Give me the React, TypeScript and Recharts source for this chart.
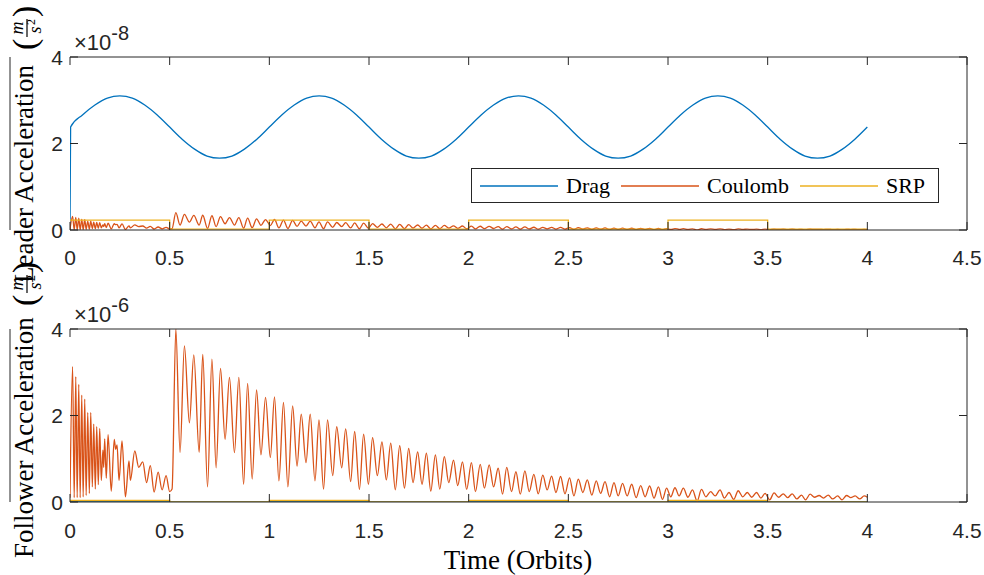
import React from 'react';
import { LineChart, Line, XAxis, YAxis, Legend } from 'recharts';

// ---------- data ----------
const xTicks = [0, 0.5, 1, 1.5, 2, 2.5, 3, 3.5, 4, 4.5];
const yTicks = [0, 2, 4];

// Leader drag (x1e-8), sampled every 1/16 orbit, plus the initial jump from 0
const dragTimes = [
  0, 0.003, 0.0625, 0.125, 0.1875, 0.25, 0.3125, 0.375, 0.4375, 0.5, 0.5625, 0.625, 0.6875, 0.75, 0.8125, 0.875, 0.9375,
  1, 1.0625, 1.125, 1.1875, 1.25, 1.3125, 1.375, 1.4375, 1.5, 1.5625, 1.625, 1.6875, 1.75, 1.8125, 1.875, 1.9375,
  2, 2.0625, 2.125, 2.1875, 2.25, 2.3125, 2.375, 2.4375, 2.5, 2.5625, 2.625, 2.6875, 2.75, 2.8125, 2.875, 2.9375,
  3, 3.0625, 3.125, 3.1875, 3.25, 3.3125, 3.375, 3.4375, 3.5, 3.5625, 3.625, 3.6875, 3.75, 3.8125, 3.875, 3.9375, 4,
];
const leaderDrag = [
  0, 2.38, 2.66, 2.89, 3.05, 3.1, 3.05, 2.89, 2.66, 2.38, 2.1, 1.87, 1.71, 1.66, 1.71, 1.87, 2.1,
  2.38, 2.66, 2.89, 3.05, 3.1, 3.05, 2.89, 2.66, 2.38, 2.1, 1.87, 1.71, 1.66, 1.71, 1.87, 2.1,
  2.38, 2.66, 2.89, 3.05, 3.1, 3.05, 2.89, 2.66, 2.38, 2.1, 1.87, 1.71, 1.66, 1.71, 1.87, 2.1,
  2.38, 2.66, 2.89, 3.05, 3.1, 3.05, 2.89, 2.66, 2.38, 2.1, 1.87, 1.71, 1.66, 1.71, 1.87, 2.1, 2.38,
];

// Leader SRP (x1e-8): on/off square wave
const srpTimes = [0, 0.5, 0.5, 1, 1, 1.5, 1.5, 2, 2, 2.5, 2.5, 3, 3, 3.5, 3.5, 4];
const leaderSrp = [0.23, 0.23, 0.02, 0.02, 0.23, 0.23, 0.02, 0.02, 0.23, 0.23, 0.02, 0.02, 0.23, 0.23, 0.02, 0.02];

// Follower drag and SRP (x1e-6): barely above zero
const followerDragTimes = [0, 4];
const followerDrag = [0.008, 0.008];
const followerSrp = [0.035, 0.035, 0.004, 0.004, 0.035, 0.035, 0.004, 0.004, 0.035, 0.035, 0.004, 0.004, 0.035, 0.035, 0.004, 0.004];

// Follower Coulomb acceleration (x1e-6): successive peaks and troughs [time, value]
const followerCoulomb: [number, number][] = [
  [0, 0.1], [0.013, 3.13], [0.021, 0.1], [0.029, 2.9], [0.036, 0.1], [0.044, 2.72], [0.051, 0.1], [0.059, 2.47],
  [0.066, 0.12], [0.074, 2.38], [0.081, 0.15], [0.089, 2.07], [0.097, 0.2], [0.104, 2.07], [0.112, 0.35], [0.119, 1.8],
  [0.127, 0.3], [0.134, 1.74], [0.142, 0.4], [0.149, 1.7], [0.157, 0.5], [0.165, 1.2], [0.169, 0.8], [0.174, 1.46],
  [0.182, 0.55], [0.191, 1.56], [0.207, 0.25], [0.222, 1.45], [0.229, 1.22], [0.236, 1.32], [0.246, 0.5], [0.261, 1.41],
  [0.278, 0.12], [0.296, 0.95], [0.303, 0.5], [0.325, 1.18], [0.345, 0.8], [0.365, 0.93], [0.384, 0.45], [0.403, 0.84],
  [0.422, 0.23], [0.442, 0.69], [0.462, 0.28], [0.482, 0.61], [0.5, 0.24], [0.512, 0.3], [0.531, 4.0], [0.552, 1.14],
  [0.574, 3.61], [0.599, 1.83], [0.621, 3.4], [0.648, 1.15], [0.666, 3.41], [0.69, 0.35], [0.712, 3.3], [0.733, 0.79],
  [0.755, 3.09], [0.778, 1.45], [0.8, 2.88], [0.825, 1.14], [0.847, 2.88], [0.871, 0.41], [0.891, 2.74], [0.914, 0.53],
  [0.936, 2.59], [0.958, 1.09], [0.981, 2.42], [1.005, 1.03], [1.026, 2.43], [1.048, 0.49], [1.071, 2.3], [1.093, 0.35],
  [1.117, 2.22], [1.139, 0.83], [1.16, 2.03], [1.184, 0.91], [1.205, 2.03], [1.229, 0.49], [1.249, 1.9], [1.272, 0.3],
  [1.292, 1.9], [1.318, 0.61], [1.338, 1.74], [1.363, 0.79], [1.383, 1.69], [1.408, 0.47], [1.428, 1.63], [1.452, 0.29],
  [1.473, 1.57], [1.497, 0.41], [1.518, 1.49], [1.542, 0.61], [1.565, 1.39], [1.587, 0.51], [1.609, 1.36], [1.632, 0.28],
  [1.654, 1.3], [1.678, 0.32], [1.699, 1.24], [1.721, 0.45], [1.744, 1.16], [1.766, 0.41], [1.788, 1.13], [1.81, 0.25],
  [1.833, 1.09], [1.855, 0.3], [1.878, 1.05], [1.9, 0.45], [1.924, 0.97], [1.945, 0.38], [1.969, 0.93], [1.99, 0.29],
  [2.014, 0.91], [2.034, 0.24], [2.058, 0.87], [2.079, 0.32], [2.103, 0.86], [2.125, 0.35], [2.148, 0.78], [2.17, 0.18],
  [2.191, 0.8], [2.215, 0.24], [2.237, 0.7], [2.259, 0.18], [2.282, 0.72], [2.304, 0.24], [2.327, 0.64], [2.349, 0.19],
  [2.372, 0.62], [2.394, 0.28], [2.416, 0.6], [2.438, 0.22], [2.461, 0.59], [2.483, 0.19], [2.506, 0.56], [2.528, 0.14],
  [2.55, 0.53], [2.573, 0.22], [2.595, 0.51], [2.618, 0.16], [2.64, 0.49], [2.662, 0.2], [2.684, 0.47], [2.707, 0.12],
  [2.729, 0.45], [2.75, 0.14], [2.772, 0.43], [2.795, 0.14], [2.818, 0.41], [2.84, 0.1], [2.863, 0.38], [2.885, 0.12],
  [2.908, 0.37], [2.93, 0.09], [2.952, 0.35], [2.972, 0.06], [2.993, 0.32], [3.014, 0.12], [3.035, 0.33], [3.056, 0.14],
  [3.077, 0.32], [3.1, 0.11], [3.123, 0.28], [3.146, 0.02], [3.168, 0.29], [3.19, 0.12], [3.214, 0.24], [3.237, 0.14],
  [3.261, 0.28], [3.283, 0.09], [3.306, 0.22], [3.33, 0.06], [3.352, 0.26], [3.375, 0.12], [3.398, 0.22], [3.42, 0.11],
  [3.444, 0.22], [3.466, 0.09], [3.487, 0.2], [3.51, 0.05], [3.532, 0.21], [3.555, 0.11], [3.578, 0.19], [3.6, 0.1],
  [3.623, 0.19], [3.646, 0.07], [3.67, 0.16], [3.69, 0.05], [3.713, 0.18], [3.735, 0.11], [3.758, 0.15], [3.78, 0.09],
  [3.804, 0.16], [3.826, 0.07], [3.851, 0.14], [3.873, 0.05], [3.896, 0.15], [3.917, 0.1], [3.939, 0.14], [3.962, 0.07],
  [3.984, 0.14], [4.0, 0.11],
];

const series = [
  { key: 'drag', name: 'Drag', color: '#0072BD' },
  { key: 'coulomb', name: 'Coulomb', color: '#D95319' },
  { key: 'srp', name: 'SRP', color: '#EDB120' },
];

const leaderDragData = dragTimes.map((t, i) => ({ t, v: leaderDrag[i] }));
const leaderSrpData = srpTimes.map((t, i) => ({ t, v: leaderSrp[i] }));
const followerDragData = followerDragTimes.map((t, i) => ({ t, v: followerDrag[i] }));
const followerSrpData = srpTimes.map((t, i) => ({ t, v: followerSrp[i] }));
const coulombData = followerCoulomb.map(([t, v]) => ({ t, v }));

// ---------- styles ----------
const AX = '#262626';
const SANS = '"Liberation Sans", Arial, sans-serif';
const SERIF = '"Liberation Serif", "Times New Roman", serif';
const tickFont = { fontFamily: SANS, fontSize: 21, fill: AX };
const LW = 1.3;
const noTick = () => <g />;

// left axis tick: inward tick mark + label left of the axis
const LeftTick = (props: any) => {
  const { y, payload } = props;
  return (
    <g>
      <line x1={70} x2={78} y1={y} y2={y} stroke={AX} strokeWidth={1} />
      <text x={63} y={y} dy="0.36em" textAnchor="end" fontFamily={SANS} fontSize={21} fill={AX}>
        {payload.value}
      </text>
    </g>
  );
};

const LegendBox = () => (
  <div
    style={{
      border: `1px solid ${AX}`,
      background: '#fff',
      width: 466,
      height: 33,
      display: 'flex',
      alignItems: 'center',
      fontFamily: SERIF,
      fontSize: 22,
      color: '#000',
      lineHeight: 1,
    }}
  >
    {series.map((s, i) => (
      <div key={s.key} style={{ display: 'flex', alignItems: 'center', marginLeft: i === 0 ? 8 : 11 }}>
        <svg width={78} height={4} style={{ display: 'block' }}>
          <line x1={0} y1={2} x2={78} y2={2} stroke={s.color} strokeWidth={LW} />
        </svg>
        <span style={{ marginLeft: 8 }}>{s.name}</span>
      </div>
    ))}
  </div>
);

// main y-label text, vertical writing mode turned to read bottom-to-top
const YText = ({ text, top, len }: { text: string; top: number; len: number }) => (
  <div
    style={{
      position: 'absolute',
      left: 11,
      top,
      height: len,
      width: 27,
      writingMode: 'vertical-rl',
      transform: 'rotate(180deg)',
      fontFamily: SERIF,
      fontSize: 27,
      lineHeight: '27px',
      whiteSpace: 'nowrap',
      textAlign: 'center',
      color: '#000',
    }}
  >
    {text}
  </div>
);

// "(m/s^2)" drawn in SVG; topY = screen y of the top of the block
const Units = ({ topY }: { topY: number }) => (
  <g transform="rotate(-90)" fill="#000" fontFamily={SERIF}>
    <text x={-(topY + 44)} y={36} fontSize={34}>(</text>
    <text x={-(topY + 22)} y={23} textAnchor="middle" fontSize={18} fontStyle="italic">m</text>
    <line x1={-(topY + 31)} x2={-(topY + 13)} y1={27} y2={27} stroke="#000" strokeWidth={1.2} />
    <text x={-(topY + 24)} y={41} textAnchor="middle" fontSize={18} fontStyle="italic">s</text>
    <text x={-(topY + 19)} y={35} fontSize={12}>2</text>
    <text x={-(topY + 11)} y={36} fontSize={34}>)</text>
  </g>
);

const Exponent = ({ exp, baseY }: { exp: string; baseY: number }) => (
  <text x={74} y={baseY} fontFamily={SANS} fontSize={22} fill={AX}>
    ×10
    <tspan dy={-10} fontSize={20}>{exp}</tspan>
  </text>
);

function Panel({
  height,
  top,
  plotTop,
  plotBottom,
  tickMargin,
  follower,
}: {
  height: number;
  top: number;
  plotTop: number;
  plotBottom: number;
  tickMargin: number;
  follower: boolean;
}) {
  const dragData = follower ? followerDragData : leaderDragData;
  const srpData = follower ? followerSrpData : leaderSrpData;
  return (
    <div style={{ position: 'absolute', left: 0, top }}>
      <LineChart width={984} height={height} margin={{ top: plotTop - 1, right: 16, bottom: 0, left: 0 }}>
        <XAxis
          dataKey="t"
          type="number"
          domain={[0, 4.5]}
          ticks={xTicks}
          interval={0}
          allowDataOverflow
          height={height - plotBottom}
          tickSize={-8}
          tickMargin={tickMargin}
          tick={tickFont}
          axisLine={{ stroke: AX }}
          tickLine={{ stroke: AX }}
        />
        <XAxis
          xAxisId="top"
          orientation="top"
          dataKey="t"
          type="number"
          domain={[0, 4.5]}
          ticks={xTicks}
          interval={0}
          allowDataOverflow
          height={1}
          tickSize={-8}
          tick={noTick}
          axisLine={{ stroke: AX }}
          tickLine={{ stroke: AX }}
        />
        <YAxis
          yAxisId="main"
          type="number"
          domain={[0, 4]}
          ticks={yTicks}
          interval={0}
          allowDataOverflow
          width={70}
          tickLine={false}
          tick={LeftTick}
          axisLine={{ stroke: AX }}
        />
        <YAxis
          yAxisId="right"
          orientation="right"
          type="number"
          domain={[0, 4]}
          ticks={yTicks}
          interval={0}
          allowDataOverflow
          width={1}
          tickSize={-8}
          tick={noTick}
          axisLine={{ stroke: AX }}
          tickLine={{ stroke: AX }}
        />
        {/* leader panel in 1e-8, follower panel in 1e-6 */}
        <YAxis yAxisId="small" hide type="number" domain={[0, 4]} allowDataOverflow />
        {/* Coulomb values stored in 1e-6; the leader sees 1e-3 of the follower's value */}
        <YAxis yAxisId="coul" hide type="number" domain={follower ? [0, 4] : [0, 40]} allowDataOverflow />
        <Line
          data={dragData}
          dataKey="v"
          yAxisId="small"
          type="monotone"
          stroke={series[0].color}
          strokeWidth={LW}
          dot={false}
          isAnimationActive={false}
          name="Drag"
        />
        <Line
          data={coulombData}
          dataKey="v"
          yAxisId="coul"
          type="monotone"
          stroke={series[1].color}
          strokeWidth={LW}
          dot={false}
          isAnimationActive={false}
          name="Coulomb"
        />
        <Line
          data={srpData}
          dataKey="v"
          yAxisId="small"
          type="linear"
          stroke={series[2].color}
          strokeWidth={LW}
          dot={false}
          isAnimationActive={false}
          name="SRP"
        />
        {!follower && (
          <Legend
            layout="horizontal"
            verticalAlign="middle"
            align="center"
            content={() => <LegendBox />}
            wrapperStyle={{ left: 471, top: 168, width: 468, height: 35, margin: 0 }}
          />
        )}
      </LineChart>
    </div>
  );
}

export default function App() {
  return (
    <div style={{ position: 'absolute', left: 0, top: 0, width: 984, height: 575, background: '#fff', overflow: 'hidden' }}>
      <Panel height={290} top={0} plotTop={57} plotBottom={230} tickMargin={28} follower={false} />
      <Panel height={285} top={290} plotTop={39} plotBottom={212} tickMargin={29} follower={true} />
      <YText text="Leader Acceleration" top={56} len={236} />
      <YText text="Follower Acceleration" top={312} len={252} />
      <svg width={984} height={575} style={{ position: 'absolute', left: 0, top: 0, pointerEvents: 'none' }}>
        <Exponent exp="-8" baseY={50} />
        <Exponent exp="-6" baseY={322} />
        <Units topY={6} />
        <Units topY={262} />
        <text x={518} y={569} textAnchor="middle" fontFamily={SERIF} fontSize={27} fill="#000">
          Time (Orbits)
        </text>
      </svg>
    </div>
  );
}
